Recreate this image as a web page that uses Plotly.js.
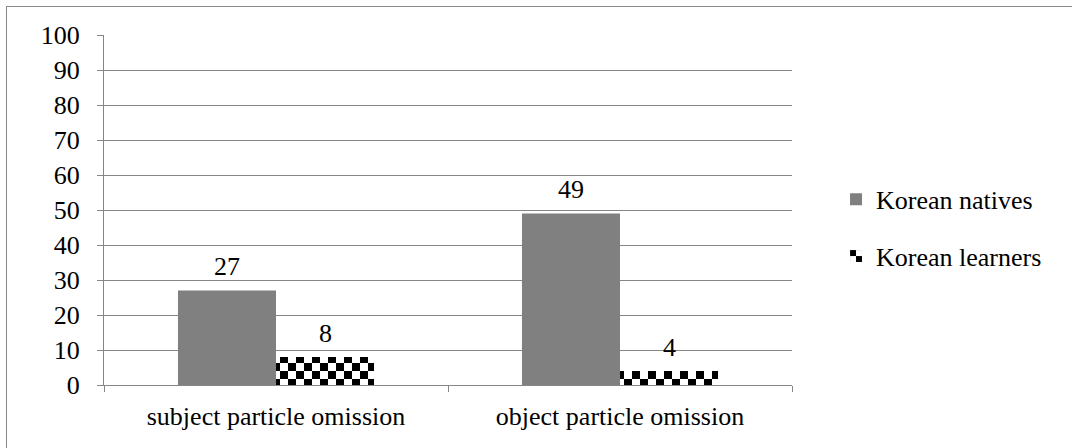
<!DOCTYPE html>
<html><head><meta charset="utf-8">
<script src="https://cdn.plot.ly/plotly-3.0.1.min.js"></script>
<style>
html,body{margin:0;padding:0;background:#fff;overflow:hidden;}
#wrap{position:relative;width:1072px;height:448px;overflow:hidden;}
#chart{width:1072px;height:448px;}
#frame{position:absolute;left:6px;top:6px;width:1100px;height:500px;border-left:1px solid #888;border-top:1px solid #888;pointer-events:none;}
</style></head>
<body>
<div id="wrap"><div id="chart"></div><div id="frame"></div></div>
<script>
const categories = ["subject particle omission", "object particle omission"];
const seriesNames = ["Korean natives", "Korean learners"];
const natives = [27, 49];
const learners = [8, 4];
const yTicks = [0,10,20,30,40,50,60,70,80,90,100];

function F(fam){ return {family: fam || "Times New Roman", size: 26, color: "#000000"}; }

const traces = [
  {type:'bar', name: seriesNames[0], x: categories, y: natives,
   marker:{color:'#808080', line:{width:0}}, legendgroup:'a', hoverinfo:'skip'},
  {type:'bar', name: seriesNames[1], x: categories, y: learners,
   marker:{color:'#ffffff', line:{width:0},
     pattern:{shape:'/', fgcolor:'#000', bgcolor:'#fff', size:16, solidity:0.5}},
   legendgroup:'b', hoverinfo:'skip'}
];

const annotations = [];
[natives, learners].forEach((vals, si) => {
  vals.forEach((v, ci) => {
    annotations.push({x: categories[ci], y: v, xref:'x', yref:'y', text: String(v),
      showarrow:false, xshift: si === 0 ? -49 : 49, yshift: 24, yanchor:'middle', font: F('serif')});
  });
});

const layout = {
  width:1072, height:448,
  margin:{l:104, r:280, t:35, b:63, pad:0},
  paper_bgcolor:'#fff', plot_bgcolor:'#fff',
  font: F(),
  barmode:'group', bargap:0.43, bargroupgap:0,
  showlegend:true,
  legend:{x:1.064, xanchor:'left', y:0.449, yanchor:'middle', font:F('Liberation Serif'),
    tracegroupgap:20, bgcolor:'rgba(0,0,0,0)'},
  xaxis:{type:'category', showline:true, linecolor:'#868686', linewidth:1,
    ticks:'outside', tickson:'boundaries', ticklen:6, tickcolor:'#868686',
    showgrid:false, tickfont:F('Times New Roman'), ticklabelstandoff:8, fixedrange:true},
  yaxis:{range:[0,100], tickvals:yTicks, ticktext:yTicks.map(String),
    showline:true, linecolor:'#868686', linewidth:1, ticks:'outside', ticklen:6,
    tickcolor:'#868686', showgrid:true, gridcolor:'#868686', gridwidth:1,
    zeroline:false, tickfont:F('serif'), ticklabelstandoff:12, fixedrange:true},
  annotations: annotations
};

function checker(gd){
  const ns = 'http://www.w3.org/2000/svg';
  gd.querySelectorAll('pattern').forEach(p => {
    p.setAttribute('width', 16); p.setAttribute('height', 16);
    p.setAttribute('patternUnits','userSpaceOnUse');
    while (p.firstChild) p.removeChild(p.firstChild);
    const mk = (x,y,w,h,c) => { const r = document.createElementNS(ns,'rect');
      r.setAttribute('x',x); r.setAttribute('y',y); r.setAttribute('width',w); r.setAttribute('height',h);
      r.setAttribute('fill',c); p.appendChild(r); };
    mk(0,0,16,16,'#fff'); mk(0,0,8,8,'#000'); mk(8,8,8,8,'#000');
  });
}

const gd = document.getElementById('chart');
Plotly.newPlot(gd, traces, layout, {displayModeBar:false, staticPlot:true}).then(() => checker(gd));
</script>
</body></html>
